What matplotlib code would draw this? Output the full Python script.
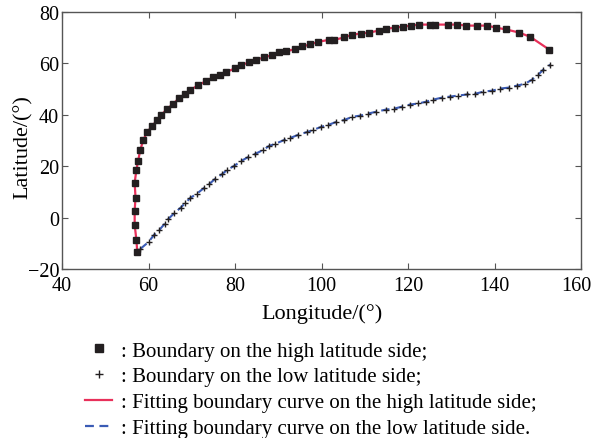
import matplotlib.pyplot as plt
from matplotlib.lines import Line2D
from matplotlib.transforms import ScaledTranslation

plt.rcParams['font.family'] = ['Liberation Serif', 'DejaVu Serif']

# boundary on the high latitude side (squares)
high_lon = [57.4, 57.2, 56.8, 56.8, 57.0, 56.8, 57.2, 57.6, 58.1, 58.8, 59.7, 60.9,
            62.0, 63.0, 64.3, 65.7, 67.1, 68.5, 69.7, 71.5, 73.4, 75.0, 76.6, 78.0,
            80.1, 81.5, 83.3, 84.9, 86.8, 88.6, 90.2, 91.9, 93.9, 95.6, 97.4, 99.3,
            101.8, 103.0, 105.3, 107.1, 109.2, 111.0, 113.4, 115.0, 117.1, 118.9,
            120.8, 122.6, 125.1, 126.3, 129.3, 131.4, 133.5, 136.0, 138.3, 140.4,
            142.7, 145.7, 148.3, 152.7]
high_lat = [-13.3, -8.7, -2.8, 2.6, 7.8, 13.5, 18.6, 22.1, 26.3, 30.2, 33.3, 35.7,
            38.0, 40.0, 42.3, 44.2, 46.6, 48.1, 49.7, 51.5, 53.2, 54.7, 55.5, 56.7,
            58.1, 59.4, 60.4, 61.4, 62.4, 63.2, 64.3, 64.7, 65.6, 66.6, 67.4, 68.4,
            69.2, 69.2, 70.1, 71.2, 71.6, 72.0, 72.8, 73.5, 73.9, 74.3,
            74.7, 75.1, 75.1, 75.1, 75.1, 75.1, 74.7, 74.7, 74.7, 73.9,
            73.2, 72.0, 70.3, 65.3]

# boundary on the low latitude side (plus)
low_lon = [58.1, 60.0, 61.3, 62.5, 63.7, 64.6, 66.0, 67.4, 68.5, 69.7, 71.1, 72.9,
           74.1, 75.4, 77.1, 78.2, 79.8, 81.5, 83.1, 84.7, 86.5, 87.9, 89.3, 91.4,
           92.8, 94.6, 96.7, 98.1, 99.9, 101.6, 103.4, 105.3, 107.1, 109.0, 110.8,
           112.7, 114.8, 116.8, 118.7, 120.5, 122.4, 124.2, 125.8, 127.9, 129.8,
           131.6, 133.7, 135.6, 137.4, 139.5, 141.3, 143.4, 145.3, 147.1, 148.7,
           150.1, 151.3, 152.9]
low_lat = [-12.2, -9.5, -6.7, -4.8, -2.5, -0.5, 1.8, 3.8, 5.7, 7.7, 9.2, 11.6,
           13.1, 15.1, 17.0, 18.6, 20.1, 22.1, 23.6, 24.8, 26.3, 27.9, 28.7, 30.2,
           31.0, 32.2, 33.3, 34.1, 35.3, 36.1, 37.2, 38.0, 39.2, 39.7, 40.5,
           41.2, 42.0, 42.4, 43.2, 44.0, 44.4, 45.1, 45.9, 46.7, 47.1,
           47.5, 47.9, 48.2, 49.0, 49.4, 50.2, 50.6, 51.4, 52.1, 53.7,
           55.6, 57.6, 59.5]

red = '#e8305a'
blue = '#3a5bb5'

fig = plt.figure(figsize=(5.93, 4.39), dpi=100)
ax = fig.add_axes([62 / 593, 1 - 270 / 439, (581 - 62) / 593, (270 - 13) / 439])

ax.plot(high_lon, high_lat, color=red, lw=1.6, zorder=2)
ax.plot(low_lon, low_lat, color=blue, lw=1.5, ls=(0, (4, 2.5)), zorder=2)
ax.plot(high_lon, high_lat, 's', color='#231f20', ms=4.8, zorder=3)
ax.plot(low_lon, low_lat, '+', color='#231f20', ms=4.5, mew=1.0, zorder=3)

ax.set_xlim(40, 160)
ax.set_ylim(-20, 80)
ax.set_xticks([40, 60, 80, 100, 120, 140, 160])
ax.set_yticks([-20, 0, 20, 40, 60, 80])
ax.tick_params(direction='in', length=4, top=True, right=True, labelsize=14.5,
               color='#555555', width=0.8)
ax.tick_params(axis='x', pad=5)
ax.tick_params(axis='y', pad=2)
for s in ax.spines.values():
    s.set_color('#555555')
    s.set_linewidth(1.0)

# nudge the last x label so it stays inside the figure
last = ax.get_xticklabels()[-1]
last.set_transform(last.get_transform() + ScaledTranslation(-3.5 / 72, 0, fig.dpi_scale_trans))

ax.set_xlabel('Longitude/(°)', fontsize=16, labelpad=6)
ax.set_ylabel('Latitude/(°)', fontsize=16)
ax.yaxis.set_label_coords(-0.056, 0.48)

handles = [
    Line2D([], [], ls='none', marker='s', color='#231f20', ms=6),
    Line2D([], [], ls='none', marker='+', color='#231f20', ms=6, mew=1.0),
    Line2D([], [], color=red, lw=1.6),
    Line2D([], [], color=blue, lw=1.6, ls=(0, (4, 2.5))),
]
labels = [
    ': Boundary on the high latitude side;',
    ': Boundary on the low latitude side;',
    ': Fitting boundary curve on the high latitude side;',
    ': Fitting boundary curve on the low latitude side.',
]
fig.legend(handles, labels, loc='upper left', bbox_to_anchor=(85 / 593, 1 - 342 / 439),
           frameon=False, fontsize=15, handlelength=1.3, handletextpad=0.45,
           labelspacing=0.3, borderpad=0, borderaxespad=0)

fig.savefig('out.png', dpi=100)
